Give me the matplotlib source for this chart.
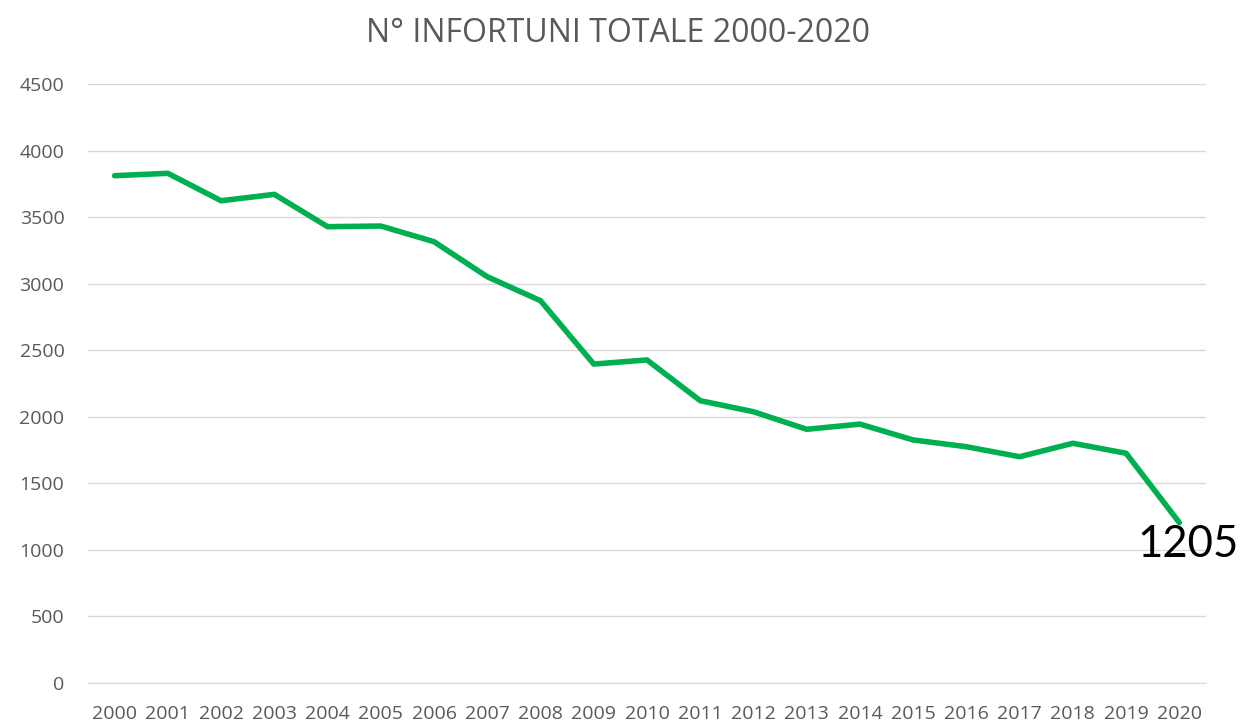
import matplotlib
matplotlib.use('Agg')
import matplotlib.pyplot as plt

years = [str(y) for y in range(2000, 2021)]
infortuni = [3811, 3829, 3623, 3671, 3428, 3433, 3315, 3052, 2872, 2396, 2427,
             2121, 2038, 1906, 1945, 1826, 1775, 1700, 1801, 1726, 1205]
yticks = [0, 500, 1000, 1500, 2000, 2500, 3000, 3500, 4000, 4500]


def main():
    plt.rcParams['font.family'] = ['Open Sans', 'DejaVu Sans']
    fig = plt.figure(figsize=(12.43, 7.24), dpi=100)
    ax = fig.add_axes([0.0708, 0.0566, 0.8994, 0.8274])

    x = list(range(len(years)))
    ax.plot(x, infortuni, color='#00B050', lw=4, solid_joinstyle='round',
            solid_capstyle='round', zorder=3)

    ax.set_xlim(-0.5, len(years) - 0.5)
    ax.set_ylim(0, 4500)
    ax.set_xticks(x)
    ax.set_xticklabels(years)
    ax.set_yticks(yticks)
    ax.tick_params(axis='both', length=0, labelsize=14, colors='#595959')
    ax.tick_params(axis='x', pad=16)
    ax.tick_params(axis='y', pad=17)
    ax.grid(axis='y', color='#D9D9D9', lw=1)
    ax.set_axisbelow(True)
    for s in ['top', 'right', 'left']:
        ax.spines[s].set_visible(False)
    ax.spines['bottom'].set_color('#D9D9D9')

    # etichetta ultimo valore
    ax.annotate(str(infortuni[-1]), (x[-1], infortuni[-1]), xytext=(6, -16),
                textcoords='offset points', ha='center', va='center',
                fontsize=31.5, family=['Lato', 'DejaVu Sans'], color='black', zorder=4)

    fig.text(0.497, 0.954, 'N° INFORTUNI TOTALE 2000-2020', ha='center', va='center',
             fontsize=23, color='#595959')

    fig.savefig('out.png', dpi=100)


if __name__ == '__main__':
    main()
